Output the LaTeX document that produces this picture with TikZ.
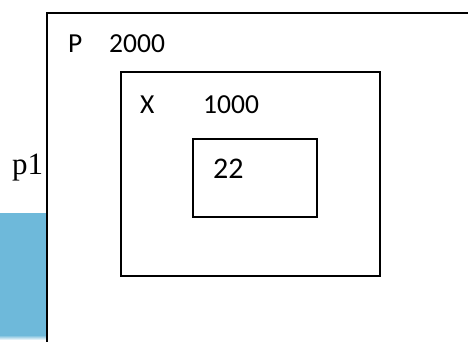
\documentclass[tikz,border=0pt]{standalone}
\usepackage{fontspec}
\setmainfont{Carlito}
\newfontfamily\serifp{Liberation Serif}
\usetikzlibrary{positioning}

\definecolor{paleblue}{RGB}{110,185,218}

\begin{document}
\begin{tikzpicture}[x=1pt, y=-1pt, frame/.style={draw, line width=2.3pt, fill=white},
	lbl/.style={inner sep=0pt, anchor=base west, font=\fontsize{27.5}{32}\selectfont}]
	\useasboundingbox (0,0) rectangle (468,341);
	
	% Background {p1, blue block}
	\node [inner sep=0pt, anchor=base west, font=\serifp\fontsize{31}{36}\selectfont] (p1) at (12,174) {p1};
	\fill [paleblue] (0,213) rectangle (48,335);
	\shade [top color=paleblue, bottom color=white] (0,335) rectangle (48,340);
	
	% Frames {P, X, inner}
	\draw [frame] (47,13) rectangle (472,346);
	\draw [frame] (121,72) rectangle (380,276);
	\draw [frame] (193,139) rectangle (317,217);
	
	% Labels
	\node [lbl] (pname)  at (68,52)   {P};
	\node [lbl] (pval)   at (109,52)  {2000};
	\node [lbl] (xname)  at (140,113) {X};
	\node [lbl] (xval)   at (203,113) {1000};
	\node [lbl, font=\fontsize{30}{35}\selectfont] (inval) at (213,178) {22};
	
\end{tikzpicture}
\end{document}
